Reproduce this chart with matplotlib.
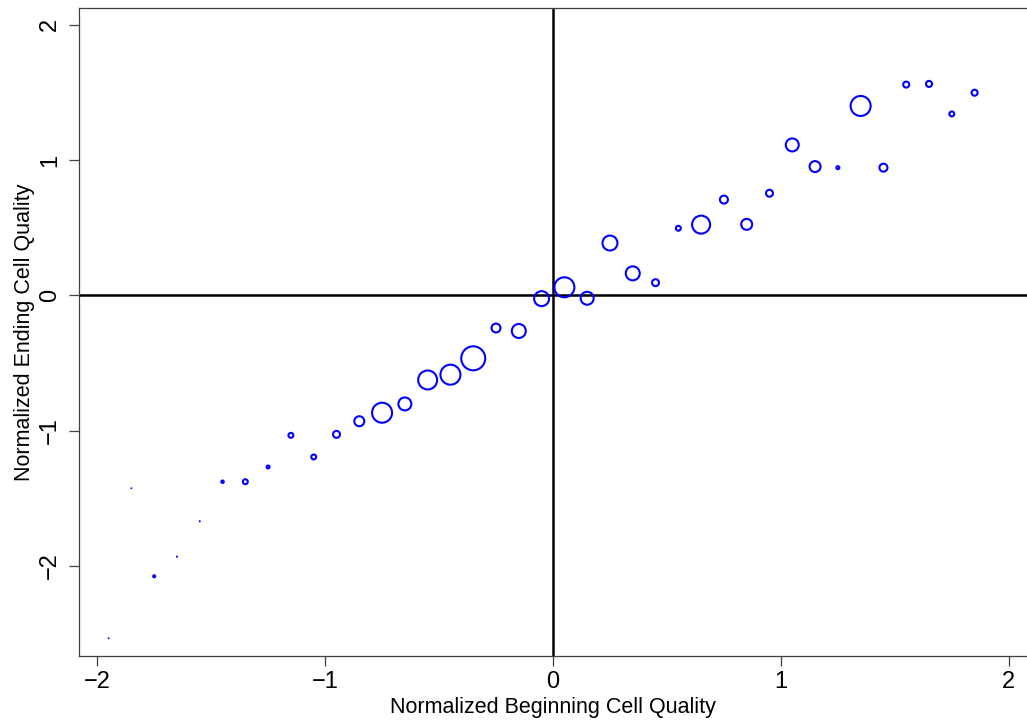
import matplotlib.pyplot as plt
import numpy as np

# bin centres of beginning quality, mean ending quality, weight per bin
begin_q = [-1.95, -1.85, -1.75, -1.65, -1.55, -1.45, -1.35, -1.25, -1.15, -1.05,
           -0.95, -0.85, -0.75, -0.65, -0.55, -0.45, -0.35, -0.25, -0.15, -0.05,
           0.05, 0.15, 0.25, 0.35, 0.45, 0.55, 0.65, 0.75, 0.85, 0.95,
           1.05, 1.15, 1.25, 1.35, 1.45, 1.55, 1.65, 1.75, 1.85]
end_q = [-2.535, -1.426, -2.077, -1.932, -1.670, -1.378, -1.378, -1.269, -1.035, -1.195,
         -1.028, -0.931, -0.868, -0.803, -0.626, -0.587, -0.466, -0.242, -0.264, -0.025,
         0.059, -0.022, 0.386, 0.162, 0.093, 0.495, 0.522, 0.707, 0.524, 0.754,
         1.111, 0.951, 0.943, 1.399, 0.943, 1.557, 1.562, 1.340, 1.497]
weights = [0.2, 0.2, 1, 0.3, 0.3, 1.5, 6, 2.2, 6, 6,
           12, 25, 100, 42, 90, 100, 144, 20, 49, 56,
           100, 42, 56, 49, 12, 6, 81, 16, 30, 12,
           42, 30, 2.2, 100, 16, 9, 9, 6, 9]

xticks = [-2, -1, 0, 1, 2]
yticks = [-2, -1, 0, 1, 2]

plt.rcParams['font.family'] = ['Liberation Sans', 'DejaVu Sans']

fig = plt.figure(figsize=(10.27, 7.26), dpi=100)
ax = fig.add_axes([0.0769, 0.0964, 0.9231, 0.8926])

ax.axhline(0, color='black', lw=1.8, zorder=1)
ax.axvline(0, color='black', lw=1.8, zorder=1)

sizes = np.array(weights) * 2.07
lws = np.where(np.array(weights) < 0.5, 0.7, 1.5)
ax.scatter(begin_q, end_q, s=sizes, facecolors='none', edgecolors='#0000ff',
           linewidths=lws, zorder=3)

ax.set_xlim(-2.08, 2.08)
ax.set_ylim(-2.666, 2.123)
ax.set_xticks(xticks)
ax.set_yticks(yticks)
ax.set_yticklabels([str(t).replace('-', '\u2212') for t in yticks], rotation=90, va='center')

ax.tick_params(axis='both', length=7, width=0.9, color='#404040', labelsize=17)
ax.tick_params(axis='x', pad=4)
ax.tick_params(axis='y', pad=6)
for side in ['left', 'bottom', 'top']:
    ax.spines[side].set_color('#404040')
    ax.spines[side].set_linewidth(0.9)
ax.spines['right'].set_visible(False)

ax.set_xlabel('Normalized Beginning Cell Quality', fontsize=15.5, labelpad=3)
ax.set_ylabel('Normalized Ending Cell Quality', fontsize=15.5, labelpad=3)

fig.savefig('out.png', dpi=100)
